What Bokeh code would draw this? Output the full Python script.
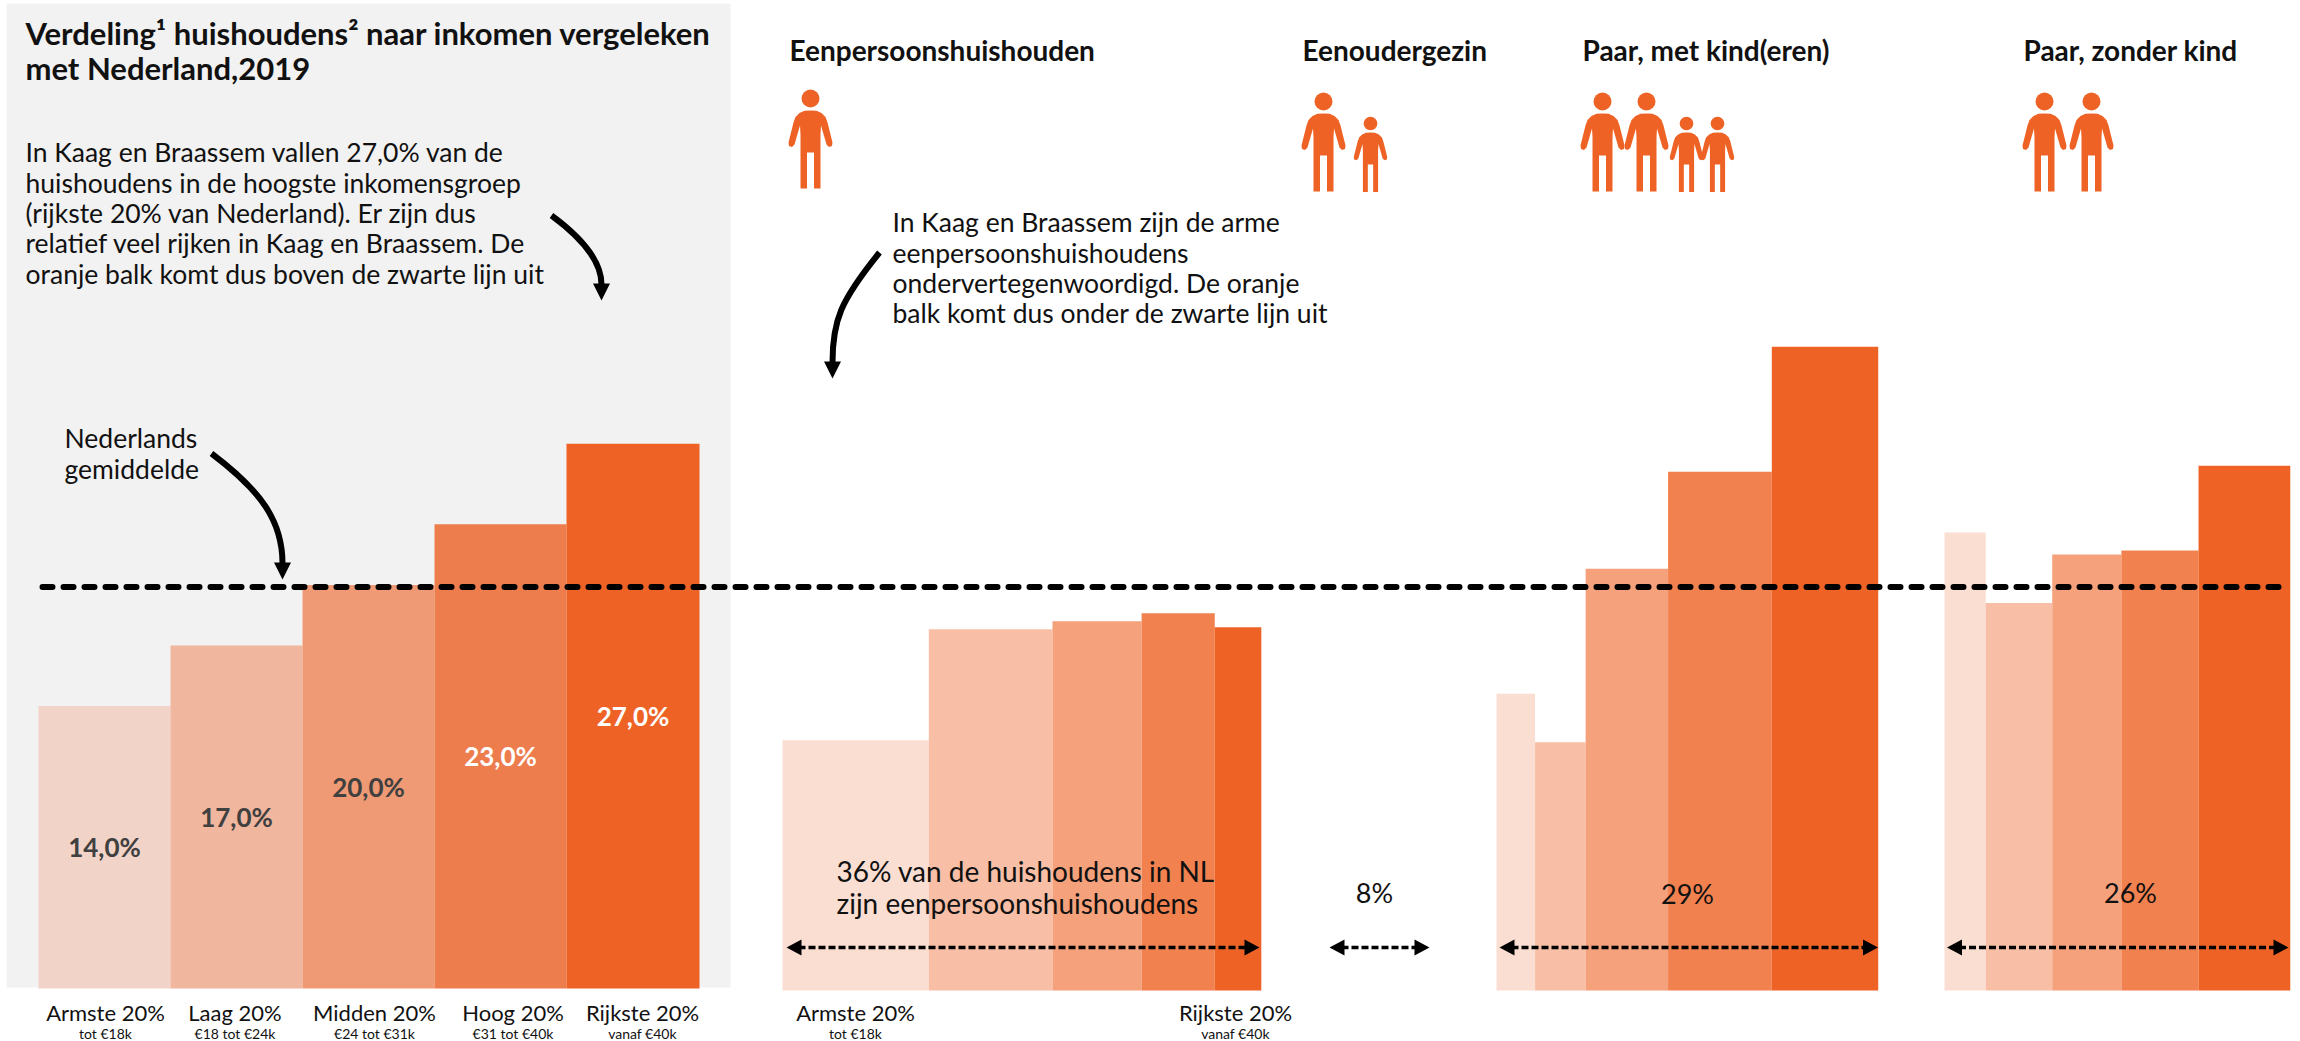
from bokeh.plotting import figure
from bokeh.models import Range1d
from bokeh.core.properties import value
from bokeh.embed import file_html
from bokeh.resources import INLINE

# ---- data ----
bands = ["Armste 20%", "Laag 20%", "Midden 20%", "Hoog 20%", "Rijkste 20%"]
bands_sub = ["tot €18k", "€18 tot €24k", "€24 tot €31k", "€31 tot €40k", "vanaf €40k"]
nl_values = [14.0, 17.0, 20.0, 23.0, 27.0]
nl_labels = ["14,0%", "17,0%", "20,0%", "23,0%", "27,0%"]
nl_mean = 19.9

single_heights = [12.4, 17.9, 18.3, 18.7, 18.0]
single_widths = [11.0, 9.3, 6.7, 5.5, 3.5]
couple_kids_heights = [14.7, 12.3, 20.9, 25.7, 31.9]
couple_kids_widths = [2.9, 3.8, 6.2, 7.8, 8.0]
couple_heights = [22.7, 19.2, 21.6, 21.8, 26.0]
couple_widths = [3.1, 5.0, 5.2, 5.8, 6.9]

# ---- layout / style ----
W, H = 2300, 1041
PX_X_LEFT = 0
PX_Y_TOP, PX_Y_BOTTOM = 0, H
PX_PER_PCT = 20.18
PX_PER_WIDTH = 13.3
FONT = "Lato"
ORANGE = ["#FBDED2", "#F8BFA6", "#F5A17B", "#F1814F", "#EE6325"]
ORANGE_NL = ["#F1D3C7", "#F0B69E", "#EF9A74", "#EE7D4E", "#EE6325"]
NL_EDGES = [38, 170, 302, 434, 566, 699]


def pct_range(baseline):
    return Range1d((baseline - PX_Y_BOTTOM) / PX_PER_PCT, (baseline - PX_Y_TOP) / PX_PER_PCT)


p = figure(width=W, height=H, output_backend="svg", toolbar_location=None,
           x_range=Range1d(PX_X_LEFT, PX_X_LEFT + W), y_range=pct_range(990), min_border=0)
p.extra_y_ranges = {"px": Range1d(PX_Y_BOTTOM, PX_Y_TOP), "nl": pct_range(988)}
p.xaxis.visible = False
p.yaxis.visible = False
p.grid.visible = False
p.outline_line_color = None
p.background_fill_color = "white"
p.border_fill_color = "white"


def label(x, y, txt, size, bold=False, align="left", color="#111111"):
    p.text([x], [y], text=[txt], y_range_name="px", text_font=value(FONT),
           text_font_size=f"{size}px", text_font_style="bold" if bold else "normal",
           text_align=align, text_baseline="middle", text_color=color)


# grey panel
p.quad(left=[6], right=[730], top=[3], bottom=[987], y_range_name="px",
       fill_color="#F2F2F2", line_color=None)

# bars: Nederland panel
p.quad(left=NL_EDGES[:-1], right=NL_EDGES[1:], bottom=[0] * 5, top=nl_values,
       y_range_name="nl", fill_color=ORANGE_NL, line_color=None)


def mekko(x0, heights, widths):
    lefts, rights = [], []
    x = x0
    for w in widths:
        lefts.append(x)
        x += w * PX_PER_WIDTH
        rights.append(x)
    p.quad(left=lefts, right=rights, bottom=[0] * len(heights), top=heights,
           fill_color=ORANGE, line_color=None)


mekko(782, single_heights, single_widths)
mekko(1496, couple_kids_heights, couple_kids_widths)
mekko(1944, couple_heights, couple_widths)

# national average line
p.line([42, 2287], [nl_mean, nl_mean], y_range_name="nl", line_color="black", line_width=6,
       line_dash="10 11", line_cap="round")

# bar value labels
for i, (v, t) in enumerate(zip(nl_values, nl_labels)):
    xc = (NL_EDGES[i] + NL_EDGES[i + 1]) / 2
    p.text([xc], [v / 2], text=[t], y_range_name="nl", text_font=value(FONT),
           text_font_size="26px", text_font_style="bold", text_align="center",
           text_baseline="middle", text_color="#404040" if i < 3 else "white")

# title + intro
label(25, 32, "Verdeling¹ huishoudens² naar inkomen vergeleken", 31, bold=True)
label(25, 67, "met Nederland,2019", 31, bold=True)
for y, t in zip([151, 182, 212, 242, 273],
                ["In Kaag en Braassem vallen 27,0% van de",
                 "huishoudens in de hoogste inkomensgroep",
                 "(rijkste 20% van Nederland). Er zijn dus",
                 "relatief veel rijken in Kaag en Braassem. De",
                 "oranje balk komt dus boven de zwarte lijn uit"]):
    label(25, y, t, 26.5)
label(64, 437, "Nederlands", 26.5)
label(64, 468, "gemiddelde", 26.5)
for y, t in zip([221, 252, 282, 312],
                ["In Kaag en Braassem zijn de arme",
                 "eenpersoonshuishoudens",
                 "ondervertegenwoordigd. De oranje",
                 "balk komt dus onder de zwarte lijn uit"]):
    label(892, y, t, 26.5)

# group headers
for x, t in zip([789, 1302, 1582, 2023],
                ["Eenpersoonshuishouden", "Eenoudergezin", "Paar, met kind(eren)", "Paar, zonder kind"]):
    label(x, 49, t, 28, bold=True)

# x labels
X_MAIN, X_SUB = 1012, 1033
for x, a, b in zip([105, 234.5, 374, 512.5, 642], bands, bands_sub):
    label(x, X_MAIN, a, 22, align="center")
    label(x, X_SUB, b, 14, align="center")
label(855, X_MAIN, bands[0], 22, align="center")
label(855, X_SUB, bands_sub[0], 14, align="center")
label(1235, X_MAIN, bands[4], 22, align="center")
label(1235, X_SUB, bands_sub[4], 14, align="center")

# share annotations
label(836, 870, "36% van de huishoudens in NL", 28)
label(836, 902, "zijn eenpersoonshuishoudens", 28)
label(1374, 892, "8%", 27, align="center")
label(1687, 893, "29%", 27, align="center")
label(2130, 892, "26%", 27, align="center")

# double arrows
for x0, x1 in [(786, 1259), (1329, 1429), (1499, 1877.5), (1946.5, 2288)]:
    p.line([x0 + 12, x1 - 12], [947, 947], y_range_name="px", line_color="black",
           line_width=3.5, line_dash="7 3")
    p.patches([[x0, x0 + 15, x0 + 15], [x1, x1 - 15, x1 - 15]],
              [[947, 939, 955], [947, 939, 955]], y_range_name="px",
              fill_color="black", line_color=None)

# curved callout arrows
for (x0, y0, cx0, cy0, cx1, cy1, x1, y1) in [(551, 215, 585, 240, 601, 262, 601, 284),
                                             (211, 453, 260, 490, 282, 520, 282, 563),
                                             (879, 252, 840, 300, 832, 320, 832, 362)]:
    p.bezier(x0=[x0], y0=[y0], cx0=[cx0], cy0=[cy0], cx1=[cx1], cy1=[cy1], x1=[x1], y1=[y1],
             y_range_name="px", line_color="black", line_width=6)
    p.patches([[x1 - 8.5, x1 + 8.5, x1]], [[y1 - 1, y1 - 1, y1 + 16]], y_range_name="px",
              fill_color="black", line_color=None)

# person icons
HALF = [(0, 12), (6, 12.3), (11, 14.5), (15, 18.5), (17, 24), (22, 44), (21.5, 47.5), (18.5, 48.5),
        (16, 46), (10.5, 27), (10, 36), (10, 90), (3.5, 90), (3.5, 54), (0, 54)]


def person(cx, head_y, s=1.0):
    right = HALF
    left = [(-a, b) for a, b in reversed(HALF[1:-1])]
    # walk down the right side, across the crotch, up the left side
    pts = right + left
    xs = [cx + a * s for a, _ in pts]
    ys = [head_y + b * s for _, b in pts]
    p.patches([xs], [ys], y_range_name="px", fill_color="#EE6325", line_color=None)
    p.ellipse([cx], [head_y], width=18 * s, height=18 * s, y_range_name="px",
              fill_color="#EE6325", line_color=None)


person(810, 98)
person(1323, 101)
person(1370, 123, 0.76)
person(1602, 101)
person(1646, 101)
person(1686, 123, 0.76)
person(1717, 123, 0.76)
person(2044, 101)
person(2091, 101)

open("out.html", "w").write(file_html(p, INLINE))
